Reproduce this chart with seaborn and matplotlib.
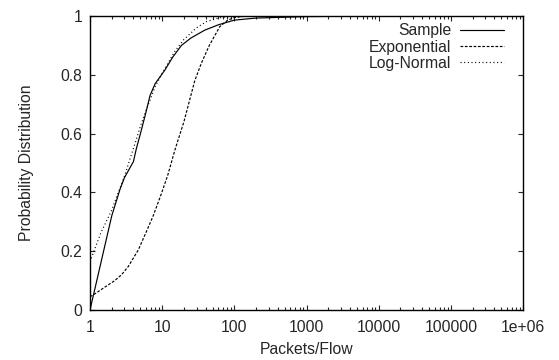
import matplotlib
matplotlib.use("Agg")
import matplotlib.pyplot as plt
import numpy as np
import pandas as pd
import seaborn as sns

# values (x = packets per flow, y = CDF)
sample_x = [1, 2, 2.6, 3, 4, 4.4, 5, 6, 6.8, 8, 10.9, 14, 18.5, 25, 39, 60, 100, 200, 1000, 10000, 1e6]
sample_y = [0.0, 0.32, 0.41, 0.45, 0.505, 0.55, 0.60, 0.675, 0.73, 0.77, 0.816, 0.86, 0.90, 0.925, 0.952, 0.97, 0.986, 0.993, 0.998, 1.0, 1.0]

expo_x = [1, 1.17, 1.61, 2.2, 2.74, 3.39, 4.66, 6.08, 7.5, 9.8, 12, 15, 20, 28.3, 35, 45, 63, 80, 100, 150, 1000, 1e6]
expo_y = [0.045, 0.055, 0.078, 0.1, 0.12, 0.148, 0.204, 0.268, 0.32, 0.397, 0.46, 0.544, 0.64, 0.78, 0.84, 0.90, 0.964, 0.985, 0.995, 1.0, 1.0, 1.0]

logn_x = [1, 1.4, 2, 3, 4, 5, 6, 8, 10, 15, 20, 30, 41, 60, 86, 150, 1000, 1e6]
logn_y = [0.164, 0.26, 0.34, 0.455, 0.55, 0.625, 0.68, 0.76, 0.805, 0.88, 0.92, 0.96, 0.981, 0.993, 0.999, 1.0, 1.0, 1.0]

xtick_vals = [1, 10, 100, 1000, 10000, 100000, 1e6]
xtick_labels = ["1", "10", "100", "1000", "10000", "100000", "1e+06"]
ytick_vals = [0, 0.2, 0.4, 0.6, 0.8, 1]
ytick_labels = ["0", "0.2", "0.4", "0.6", "0.8", "1"]

df = pd.concat([
    pd.DataFrame({"x": sample_x, "y": sample_y, "series": "Sample"}),
    pd.DataFrame({"x": expo_x, "y": expo_y, "series": "Exponential"}),
    pd.DataFrame({"x": logn_x, "y": logn_y, "series": "Log-Normal"}),
])

sns.set_style("ticks")
plt.rcParams['font.family'] = ['Liberation Sans', 'DejaVu Sans']
fs = 11.3

fig, ax = plt.subplots(figsize=(5.59, 3.6), dpi=100)
fig.subplots_adjust(left=90/559, right=523/559, top=1-16/360, bottom=1-310/360)

styles = {"Sample": "-", "Exponential": (0, (2.3, 1.4)), "Log-Normal": (0, (0.9, 2.2))}
for name in ["Sample", "Exponential", "Log-Normal"]:
    d = df[df.series == name]
    sns.lineplot(data=d, x="x", y="y", ax=ax, color="black", lw=0.85,
                 linestyle=styles[name], label=name, sort=False, estimator=None)

ax.set_xscale("log")
ax.set_xlim(1, 1e6)
ax.set_ylim(0, 1)
ax.set_xticks(xtick_vals)
ax.set_xticklabels(xtick_labels)
ax.set_yticks(ytick_vals)
ax.set_yticklabels(ytick_labels)
ax.set_xlabel("Packets/Flow", fontsize=fs, labelpad=5)
ax.set_ylabel("Probability Distribution", fontsize=fs, labelpad=19)

ax.tick_params(which="both", direction="in", top=True, right=True, labelsize=fs, width=0.8)
ax.tick_params(axis="x", which="major", length=3.6, pad=7)
ax.tick_params(axis="y", which="major", length=3.6, pad=5.5)
ax.tick_params(which="minor", length=2.2)
for s in ax.spines.values():
    s.set_linewidth(1.0)
    s.set_color("black")

leg = ax.legend(loc="upper right", bbox_to_anchor=(0.957, 0.975), frameon=False,
                markerfirst=False, fontsize=fs, handlelength=2.8, labelspacing=0.08,
                borderaxespad=0, borderpad=0, handletextpad=0.6)

plt.savefig("out.png", dpi=100)
